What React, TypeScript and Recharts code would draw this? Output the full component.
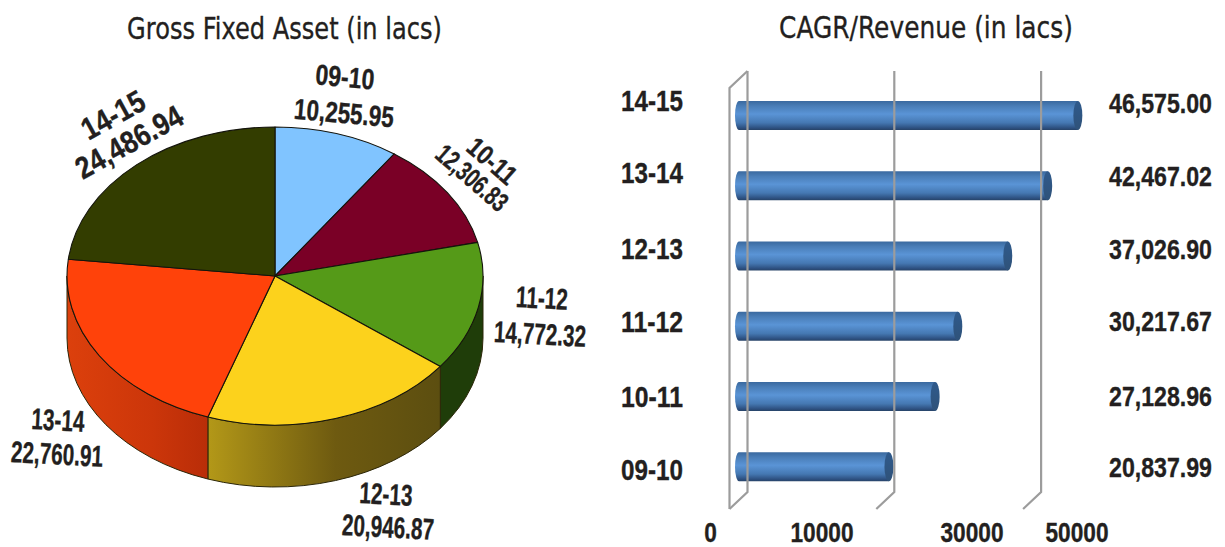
import React from "react";
import { PieChart, Pie, Cell, BarChart, Bar, XAxis, YAxis, ReferenceLine } from "recharts";

// Financial years, oldest first
const years = ["09-10", "10-11", "11-12", "12-13", "13-14", "14-15"];
const grossFixedAsset = [10255.95, 12306.83, 14772.32, 20946.87, 22760.91, 24486.94];
const revenue = [20837.99, 27128.96, 30217.67, 37026.9, 42467.02, 46575.0];
const revenueTicks = [0, 10000, 30000, 50000];
const gridValues = [0, 20000, 40000];

const sliceColors = ["#80C4FF", "#7A0026", "#559A18", "#FCD21C", "#FF420A", "#333D00"];
const wallFills = ["#2a5a8a", "#4a0018", "#1f3d09", "url(#wallYellow)", "url(#wallOrange)", "#222800"];

// Pie label placement: centre of each line, rotation and measured line widths
const pieLabelPlacement = [
  { a: [345, 77], b: [344, 113], rot: 5, wa: 59, wb: 100, size: 29 },
  { a: [492, 161], b: [472, 178], rot: 41, wa: 56, wb: 86, size: 27 },
  { a: [542, 298], b: [540, 334], rot: 3, wa: 52, wb: 92, size: 30 },
  { a: [386, 494], b: [388, 527], rot: 3, wa: 53, wb: 92, size: 30 },
  { a: [58, 420], b: [57, 454], rot: 3, wa: 53, wb: 92, size: 30 },
  { a: [113, 115], b: [129, 142], rot: -29, wa: 68, wb: 118, size: 31 },
];

// Offsets of the axis captions from their scale positions
const yearLabelShift = [3.5, 1, -4, -7, -13, -15];
const valueLabelShift = [0, 0, -5, -7, -10, -12];
const revenueTickCentre: Record<number, number> = { 0: 710.5, 10000: 822, 30000: 972, 50000: 1077 };

const pieData = years.map((year, i) => ({ year, value: grossFixedAsset[i] }));
const barData = years.map((year, i) => ({ year, value: revenue[i] }));

const PIE_RX = 208;
const PIE_RY = 149;
const PIE_DEPTH = 62;
const RIGHT_CHART_LEFT = 610;

const boldFont = "'Liberation Sans', Arial, sans-serif";
const titleFont = "'DejaVu Sans', sans-serif";
const ink = "#231f20";

const rad = (d: number) => (d * Math.PI) / 180;

const measureContext = typeof document !== "undefined" ? document.createElement("canvas").getContext("2d") : null;

// SVG text squeezed horizontally so that one line takes up the given width
function FittedText(props: {
  x: number;
  y: number;
  rot?: number;
  width: number;
  size: number;
  family?: string;
  weight?: number;
  children: string;
}) {
  const { x, y, rot = 0, width, size, family = boldFont, weight = 700, children } = props;
  let squeeze = 1;
  if (measureContext) {
    measureContext.font = `${weight} ${size}px ${family}`;
    squeeze = width / measureContext.measureText(children).width;
  }
  return (
    <text
      transform={`translate(${x},${y}) rotate(${rot}) scale(${squeeze},1)`}
      textAnchor="middle"
      dominantBaseline="central"
      fontFamily={family}
      fontWeight={weight}
      fontSize={size}
      fill={ink}
      stroke={ink}
      strokeWidth={0.35}
    >
      {children}
    </text>
  );
}

// Flattened pie slice with its outer wall, from the angles the Pie computed
function EllipticalSlice(props: any) {
  const { cx, cy, startAngle, endAngle, fill, index } = props;
  const t0 = 90 - startAngle;
  const t1 = 90 - endAngle;
  const pt = (t: number) => [cx + PIE_RX * Math.sin(rad(t)), cy - PIE_RY * Math.cos(rad(t))];
  const [ax, ay] = pt(t0);
  const [bx, by] = pt(t1);
  const large = t1 - t0 > 180 ? 1 : 0;
  const top = `M${cx},${cy} L${ax},${ay} A${PIE_RX},${PIE_RY} 0 ${large} 1 ${bx},${by} Z`;
  const w0 = Math.max(t0, 90);
  const w1 = Math.min(t1, 270);
  let wall: string | null = null;
  if (w1 > w0) {
    const [p0x, p0y] = pt(w0);
    const [p1x, p1y] = pt(w1);
    wall =
      `M${p0x},${p0y} A${PIE_RX},${PIE_RY} 0 0 1 ${p1x},${p1y} ` +
      `L${p1x},${p1y + PIE_DEPTH} A${PIE_RX},${PIE_RY} 0 0 0 ${p0x},${p0y + PIE_DEPTH} Z`;
  }
  return (
    <g>
      {wall && <path d={wall} fill={wallFills[index]} stroke="#2b2608" strokeWidth={1} />}
      <path d={top} fill={fill} stroke="#14140c" strokeWidth={1.1} strokeLinejoin="round" />
    </g>
  );
}

function PieSliceLabel(props: any) {
  const { index } = props;
  const place = pieLabelPlacement[index];
  const valueText = grossFixedAsset[index].toLocaleString("en-US", { minimumFractionDigits: 2 });
  return (
    <g>
      <FittedText x={place.a[0]} y={place.a[1]} rot={place.rot} width={place.wa} size={place.size}>
        {years[index]}
      </FittedText>
      <FittedText x={place.b[0]} y={place.b[1]} rot={place.rot} width={place.wb} size={place.size}>
        {valueText}
      </FittedText>
    </g>
  );
}

// Rounded cylinder bar with a darker end cap
function CylinderBar(props: any) {
  const { x, y, width, height } = props;
  const left = x - 5.5;
  const right = x + width;
  const capRx = 4.5;
  const cy = y + height / 2;
  const ry = height / 2;
  const body =
    `M${right - capRx},${y} L${left + 4},${y} A4,${ry} 0 0 0 ${left + 4},${y + height} ` +
    `L${right - capRx},${y + height} Z`;
  return (
    <g>
      <path d={body} fill="url(#barBody)" />
      <ellipse cx={right - capRx} cy={cy} rx={capRx} ry={ry} fill="url(#barCap)" />
    </g>
  );
}

// Gridline drawn as a bent wall line, with the full box edge at zero
function WallLine(props: any) {
  const { x1, y1, y2, value } = props;
  const topY = Math.min(y1, y2);
  const bottomY = Math.max(y1, y2);
  const backX = x1 + 7;
  const frontX = x1 - 11;
  const common = { fill: "none", stroke: "#9c9c9c", strokeWidth: 2.2 };
  return (
    <g>
      <polyline {...common} points={`${backX},${topY - 9} ${backX},${bottomY - 9.5} ${frontX},${bottomY + 7.5}`} />
      {value === 0 && (
        <polyline {...common} points={`${backX},${topY - 9} ${frontX},${topY + 8} ${frontX},${bottomY + 7.5}`} />
      )}
    </g>
  );
}

function YearTick(props: any) {
  const { y, index } = props;
  return (
    <FittedText x={42} y={y + yearLabelShift[index]} width={62} size={30}>
      {years[index]}
    </FittedText>
  );
}

function RevenueTick(props: any) {
  const { y, payload } = props;
  const label = String(payload.value);
  return (
    <FittedText x={revenueTickCentre[payload.value] - RIGHT_CHART_LEFT} y={y + 23} width={label.length * 12.6} size={27}>
      {label}
    </FittedText>
  );
}

function ValueCaption(props: any) {
  const { y, height, index } = props;
  return (
    <FittedText x={1160.5 - RIGHT_CHART_LEFT} y={y + height / 2 + valueLabelShift[index]} width={103} size={28}>
      {revenue[index].toLocaleString("en-US", { minimumFractionDigits: 2 })}
    </FittedText>
  );
}

export default function App() {
  return (
    <div style={{ position: "fixed", left: 0, top: 0, width: 1225, height: 547, background: "#fff", overflow: "hidden" }}>
      <div style={{ position: "absolute", left: 0, top: 0 }}>
        <PieChart width={RIGHT_CHART_LEFT} height={547} margin={{ top: 0, right: 0, bottom: 0, left: 0 }}>
          <defs>
            <linearGradient id="wallYellow" x1="0" y1="0" x2="1" y2="0">
              <stop offset="0" stopColor="#b39818" />
              <stop offset="0.55" stopColor="#6e5a10" />
              <stop offset="1" stopColor="#5c4e10" />
            </linearGradient>
            <linearGradient id="wallOrange" x1="0" y1="0" x2="1" y2="0">
              <stop offset="0" stopColor="#dc400c" />
              <stop offset="0.6" stopColor="#cc360a" />
              <stop offset="1" stopColor="#b92d08" />
            </linearGradient>
          </defs>
          <FittedText x={284.5} y={28} width={315} size={31} family={titleFont} weight={400}>
            Gross Fixed Asset (in lacs)
          </FittedText>
          <Pie
            data={pieData}
            dataKey="value"
            nameKey="year"
            cx={275}
            cy={276}
            innerRadius={0}
            outerRadius={PIE_RX}
            startAngle={90}
            endAngle={-270}
            isAnimationActive={false}
            shape={EllipticalSlice}
            label={PieSliceLabel}
            labelLine={false}
          >
            {pieData.map((d, i) => (
              <Cell key={d.year} fill={sliceColors[i]} />
            ))}
          </Pie>
        </PieChart>
      </div>
      <div style={{ position: "absolute", left: RIGHT_CHART_LEFT, top: 0 }}>
        <BarChart
          width={615}
          height={547}
          data={barData}
          layout="vertical"
          barSize={29}
          margin={{ top: 80, right: 117.5, bottom: 0, left: 0 }}
        >
          <defs>
            <linearGradient id="barBody" x1="0" y1="0" x2="0" y2="1">
              <stop offset="0" stopColor="#3a699f" />
              <stop offset="0.18" stopColor="#4a7eb8" />
              <stop offset="0.45" stopColor="#5a94d6" />
              <stop offset="0.75" stopColor="#4578b2" />
              <stop offset="0.93" stopColor="#2d5080" />
              <stop offset="1" stopColor="#274367" />
            </linearGradient>
            <linearGradient id="barCap" x1="0" y1="0" x2="0" y2="1">
              <stop offset="0" stopColor="#2f5a8c" />
              <stop offset="1" stopColor="#2f5279" />
            </linearGradient>
          </defs>
          <FittedText x={926 - RIGHT_CHART_LEFT} y={28} width={294} size={31} family={titleFont} weight={400}>
            CAGR/Revenue (in lacs)
          </FittedText>
          <XAxis
            type="number"
            domain={[0, 50000]}
            ticks={revenueTicks}
            height={45.5}
            axisLine={false}
            tickLine={false}
            interval={0}
            tick={RevenueTick}
          />
          <YAxis
            type="category"
            dataKey="year"
            reversed
            width={130.5}
            axisLine={false}
            tickLine={false}
            interval={0}
            tick={YearTick}
          />
          {gridValues.map((v) => (
            <ReferenceLine key={v} x={v} shape={(p: any) => <WallLine {...p} value={v} />} />
          ))}
          <Bar dataKey="value" isAnimationActive={false} shape={CylinderBar} label={ValueCaption} />
        </BarChart>
      </div>
    </div>
  );
}
